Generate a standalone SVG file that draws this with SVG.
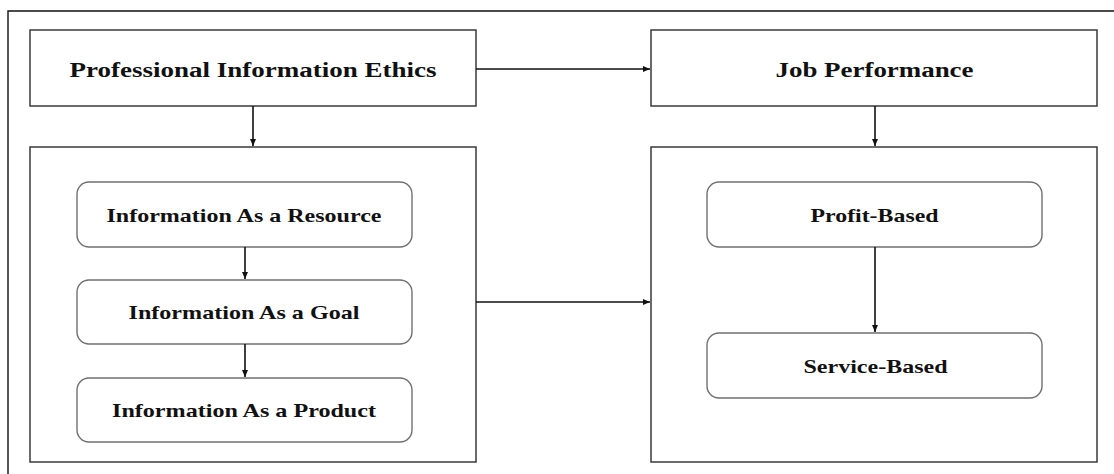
<svg xmlns="http://www.w3.org/2000/svg" width="1114" height="474" viewBox="0 0 1114 474">
<style>
  .frame{fill:none;stroke:#111;stroke-width:1.4}
  .box{fill:#fff;stroke:#3a3a3a;stroke-width:1.5}
  .rbox{fill:#fff;stroke:#707070;stroke-width:1.4}
  .lbl{font-family:"Liberation Serif","Times New Roman",serif;font-weight:bold;fill:#111;text-anchor:middle}
  .t20{font-size:20px}
  .t19{font-size:19px}
  .conn{fill:none;stroke:#111;stroke-width:1.6}
</style>
<defs>
  <marker id="ah" markerWidth="8" markerHeight="8" refX="7" refY="4" orient="auto" markerUnits="userSpaceOnUse">
    <path d="M0,1 L7,4 L0,7 Z" fill="#111"/>
  </marker>
</defs>
<rect width="1114" height="474" fill="#fff"/>
<path class="frame" d="M8,474 V11 H1114"/>

<g id="node-pie">
  <rect class="box" x="30" y="30" width="446" height="76"/>
  <text class="lbl t20" x="253" y="77" textLength="367" lengthAdjust="spacingAndGlyphs">Professional Information Ethics</text>
</g>
<g id="node-jp">
  <rect class="box" x="651" y="30" width="446" height="76"/>
  <text class="lbl t20" x="874.5" y="77" textLength="198" lengthAdjust="spacingAndGlyphs">Job Performance</text>
</g>
<g id="node-left-group">
  <rect class="box" x="30" y="147" width="446" height="315"/>
</g>
<g id="node-right-group">
  <rect class="box" x="651" y="147" width="446" height="315"/>
</g>
<g id="node-resource">
  <rect class="rbox" x="77" y="182" width="335" height="65" rx="12"/>
  <text class="lbl t19" x="244" y="221.5" textLength="275" lengthAdjust="spacingAndGlyphs">Information As a Resource</text>
</g>
<g id="node-goal">
  <rect class="rbox" x="77" y="280" width="335" height="64" rx="12"/>
  <text class="lbl t19" x="244" y="319" textLength="231" lengthAdjust="spacingAndGlyphs">Information As a Goal</text>
</g>
<g id="node-product">
  <rect class="rbox" x="77" y="378" width="335" height="64" rx="12"/>
  <text class="lbl t19" x="244" y="416.5" textLength="264" lengthAdjust="spacingAndGlyphs">Information As a Product</text>
</g>
<g id="node-profit">
  <rect class="rbox" x="707" y="182" width="335" height="65" rx="12"/>
  <text class="lbl t19" x="874.5" y="221.5" textLength="128" lengthAdjust="spacingAndGlyphs">Profit-Based</text>
</g>
<g id="node-service">
  <rect class="rbox" x="707" y="333" width="335" height="65" rx="12"/>
  <text class="lbl t19" x="875.5" y="372.5" textLength="144" lengthAdjust="spacingAndGlyphs">Service-Based</text>
</g>

<g id="connectors">
  <line class="conn" x1="476" y1="69" x2="650" y2="69" marker-end="url(#ah)"/>
  <line class="conn" x1="253" y1="106" x2="253" y2="146" marker-end="url(#ah)"/>
  <line class="conn" x1="875" y1="106" x2="875" y2="146" marker-end="url(#ah)"/>
  <line class="conn" x1="245" y1="247" x2="245" y2="279" marker-end="url(#ah)"/>
  <line class="conn" x1="245" y1="344" x2="245" y2="377" marker-end="url(#ah)"/>
  <line class="conn" x1="476" y1="302" x2="650" y2="302" marker-end="url(#ah)"/>
  <line class="conn" x1="875" y1="247" x2="875" y2="332" marker-end="url(#ah)"/>
</g>
</svg>
